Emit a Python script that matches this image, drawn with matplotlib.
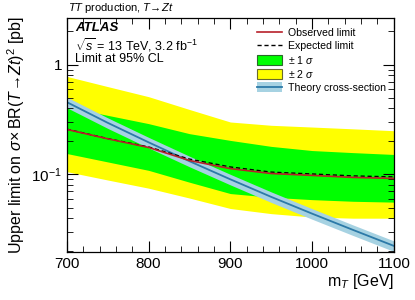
import matplotlib.pyplot as plt
import matplotlib.patches as mpatches
from matplotlib.lines import Line2D
from matplotlib.ticker import FixedLocator, MultipleLocator, LogLocator, NullFormatter
import numpy as np

plt.rcParams['font.family'] = ['Liberation Sans', 'DejaVu Sans']
plt.rcParams['mathtext.fontset'] = 'custom'
plt.rcParams['mathtext.rm'] = 'Liberation Sans'
plt.rcParams['mathtext.it'] = 'Liberation Sans:italic'
plt.rcParams['mathtext.bf'] = 'Liberation Sans:bold'

# mass points [GeV]
mass = [700, 750, 800, 850, 900, 950, 1000, 1050, 1100]

# limits [pb]
observed = [0.257, 0.211, 0.176, 0.134, 0.113, 0.102, 0.098, 0.094, 0.092]
expected = [0.258, 0.212, 0.178, 0.138, 0.117, 0.105, 0.101, 0.097, 0.095]
band1_up = [0.41, 0.345, 0.29, 0.235, 0.204, 0.18, 0.165, 0.158, 0.152]
band1_dn = [0.155, 0.13, 0.109, 0.085, 0.067, 0.062, 0.059, 0.057, 0.056]
band2_up = [0.78, 0.63, 0.51, 0.39, 0.30, 0.28, 0.27, 0.26, 0.25]
band2_dn = [0.106, 0.089, 0.075, 0.061, 0.049, 0.044, 0.041, 0.040, 0.040]

# theory cross-section [pb]
theory = [0.455, 0.295, 0.196, 0.132, 0.0903, 0.0625, 0.0440, 0.0313, 0.0224]
theory_unc = 0.11

fig = plt.figure(figsize=(4.15, 3.0), dpi=100)
ax = fig.add_axes([0.161, 0.16, 0.788, 0.78])

th = np.array(theory)
ax.fill_between(mass, band2_dn, band2_up, color='#ffff00', lw=0)
ax.fill_between(mass, band1_dn, band1_up, color='#00ff00', lw=0)
ax.fill_between(mass, th * (1 - theory_unc), th * (1 + theory_unc), color='#a6d2e2', lw=0)
ax.plot(mass, theory, color='#2c7aa8', lw=1.3)
ax.plot(mass, expected, color='black', lw=1.0, ls=(0, (3, 2)))
ax.plot(mass, observed, color='#b8202a', lw=1.2)

ax.set_yscale('log')
ax.set_xlim(700, 1100)
ax.set_ylim(0.0197, 2.65)

ax.xaxis.set_major_locator(MultipleLocator(100))
ax.xaxis.set_minor_locator(MultipleLocator(20))
ax.yaxis.set_major_locator(FixedLocator([0.1, 1]))
ax.yaxis.set_minor_locator(LogLocator(base=10, subs=np.arange(2, 10)))
ax.yaxis.set_minor_formatter(NullFormatter())
ax.set_yticklabels(['$10^{-1}$', '1'])
ax.tick_params(which='both', direction='in', top=True, right=True, labelsize=11)
ax.tick_params(which='major', length=8)
ax.tick_params(which='minor', length=4)
for s in ax.spines.values():
    s.set_linewidth(0.9)

ax.set_ylabel(r'Upper limit on $\sigma\!\times$BR($T\!\rightarrow\!Zt$)$^2$ [pb]', fontsize=11.5, labelpad=3)
ax.set_xlabel(r'm$_T$ [GeV]', fontsize=11.5, loc='right', labelpad=1)

fig.text(0.163, 0.962, r'$TT$ production, $T\!\rightarrow\!Zt$', fontsize=8)
ax.text(0.025, 0.985, 'ATLAS', transform=ax.transAxes, fontsize=9.5,
        fontweight='bold', style='italic', va='top')
ax.text(0.025, 0.922, r'$\sqrt{s}$ = 13 TeV, 3.2 fb$^{-1}$', transform=ax.transAxes,
        fontsize=9, va='top')
ax.text(0.025, 0.852, 'Limit at 95% CL', transform=ax.transAxes, fontsize=9, va='top')

handles = [
    Line2D([], [], color='#b8202a', lw=1.2),
    Line2D([], [], color='black', lw=1.0, ls=(0, (3, 2))),
    mpatches.Patch(facecolor='#00ff00', edgecolor='#2a6a2a', lw=0.8),
    mpatches.Patch(facecolor='#ffff00', edgecolor='#6a6a2a', lw=0.8),
    (mpatches.Patch(facecolor='#a6d2e2', lw=0), Line2D([], [], color='#2c7aa8', lw=1.3)),
]
labels = ['Observed limit', 'Expected limit', r'$\pm$ 1 $\sigma$', r'$\pm$ 2 $\sigma$',
          'Theory cross-section']
ax.legend(handles, labels, loc='upper right', bbox_to_anchor=(1.0, 0.99), frameon=False,
          fontsize=7.6, handlelength=2.4, handleheight=1.1, labelspacing=0.22,
          borderaxespad=0.3, handletextpad=0.6)

fig.savefig('out.png', dpi=100)
